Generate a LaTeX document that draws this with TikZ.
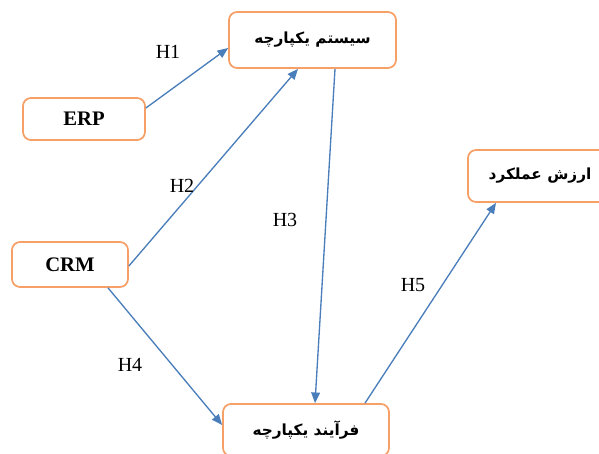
\documentclass[tikz,border=0pt]{standalone}
\usepackage{fontspec}
\setmainfont{Liberation Serif}
\newfontfamily\arabicfont[Script=Arabic]{DejaVu Sans}
\TeXXeTstate=1
\usetikzlibrary{arrows.meta,calc}
\definecolor{boxorange}{RGB}{246,160,104}
\definecolor{arrowblue}{RGB}{74,126,187}
\begin{document}
\begin{tikzpicture}[x=0.75pt,y=-0.75pt,
  box/.style={draw=boxorange,line width=1.3pt,rounded corners=6pt,fill=white,inner sep=0pt},
  link/.style={draw=arrowblue,line width=1pt,-{Triangle[length=8pt,width=6.5pt]}},
  hlab/.style={font=\fontsize{15}{17}\selectfont},
  lat/.style={font=\fontsize{15.5}{17}\selectfont\bfseries},
  fa/.style={font=\fontsize{11.5}{14}\selectfont\arabicfont\bfseries}]
\useasboundingbox (0,0) rectangle (599,453);
\clip (0,0) rectangle (599,453);
\node[box,minimum width=125.25pt,minimum height=42pt,fa] (sys) at (312.5,40) {\beginR سیستم یکپارچه\endR};
\node[box,minimum width=108pt,minimum height=39pt,fa] (perf) at (540,176) {\beginR ارزش عملکرد\endR};
\node[box,minimum width=124.5pt,minimum height=39pt,fa] (proc) at (306,430) {\beginR فرآیند یکپارچه\endR};
\node[box,minimum width=91.5pt,minimum height=31.5pt,lat] (erp) at (84,119) {ERP};
\node[box,minimum width=87pt,minimum height=33.75pt,lat] (crm) at (70,264.5) {CRM};
\draw[link] ($(erp.east)+(0,-11)$) -- ($(sys.west)+(0,8)$);
\draw[link] ($(crm.east)+(0,1.5)$) -- ($(sys.south)+(-14.5,0)$);
\draw[link] ($(sys.south)+(22.5,0)$) -- ($(proc.north)+(9,0)$);
\draw[link] ($(crm.south)+(38,0)$) -- ($(proc.west)+(0,-5)$);
\draw[link] ($(proc.north)+(59,0)$) -- ($(perf.south)+(-44,0)$);
\node[hlab] (h1) at (168,52) {H1};
\node[hlab] (h2) at (182,185.5) {H2};
\node[hlab] (h3) at (285,220) {H3};
\node[hlab] (h4) at (130,364.5) {H4};
\node[hlab] (h5) at (413,285) {H5};
\end{tikzpicture}
\end{document}
